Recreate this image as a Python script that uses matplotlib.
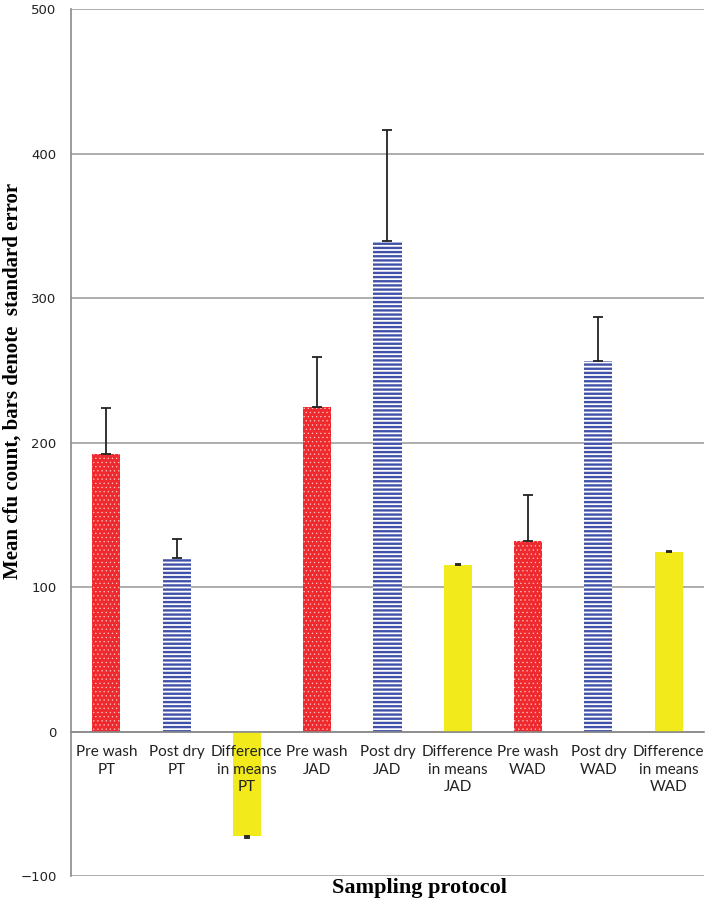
import numpy as np
import matplotlib.pyplot as plt
import matplotlib.transforms as mtransforms

categories = ["Pre wash\nPT", "Post dry\nPT", "Difference\nin means\nPT",
              "Pre wash\nJAD", "Post dry\nJAD", "Difference\nin means\nJAD",
              "Pre wash\nWAD", "Post dry\nWAD", "Difference\nin means\nWAD"]
means = [192, 120, -72.5, 224.5, 339.5, 115, 132, 256.5, 124]
std_err = [32, 13.5, 1, 34.5, 76.5, 1, 31.5, 30.5, 1]
kinds = ["pre", "post", "diff"] * 3

styles = {
    "pre": dict(facecolor="#ee2a2e", edgecolor="#ffc8c8", hatch="....", linewidth=0),
    "post": dict(facecolor="white", edgecolor="#3f51a8", hatch="----", linewidth=0),
    "diff": dict(facecolor="#f2ea1a", edgecolor="#f2ea1a", linewidth=0),
}
hatch_lw = {"pre": 0.4, "post": 1.7, "diff": 1.0}

plt.rcParams["hatch.linewidth"] = 1.7

fig = plt.figure(figsize=(7.11, 9.05), dpi=100)
ax = fig.add_axes([0.1, 0.032, 0.89, 0.958])

x = np.arange(len(categories))
for i, (m, e, k) in enumerate(zip(means, std_err, kinds)):
    bars = ax.bar(x[i], m, width=0.4, zorder=2, **styles[k])
    for b in bars:
        if hasattr(b, "set_hatch_linewidth"):
            b.set_hatch_linewidth(hatch_lw[k])
    yerr = [[0], [e]] if m >= 0 else [[e], [0]]
    cap = 2.5 if k == "diff" else 3.8
    ax.errorbar(x[i], m, yerr=yerr, fmt="none", ecolor="#222222",
                elinewidth=1.3, capsize=cap, capthick=1.3, zorder=3)

ax.set_xlim(-0.5, len(categories) - 0.5)
ax.set_ylim(-100, 500)
ax.set_yticks(np.arange(-100, 501, 100))
ax.yaxis.grid(True, color="#a0a0a0", linewidth=1.2, zorder=0)
ax.set_axisbelow(True)

for s in ["top", "right"]:
    ax.spines[s].set_visible(False)
ax.spines["left"].set_color("#8a8a8a")
ax.spines["bottom"].set_color("#8a8a8a")
ax.spines["bottom"].set_position(("data", 0))
ax.spines["left"].set_linewidth(1.2)
ax.spines["bottom"].set_linewidth(1.2)

ax.set_xticks([])
label_trans = mtransforms.offset_copy(ax.transData, fig=fig, y=-10, units="points")
for i, lab in enumerate(categories):
    ax.text(x[i], 0, lab, transform=label_trans, ha="center", va="top",
            fontsize=11, family="Lato", linespacing=1.3, color="#222222", zorder=5)

ax.tick_params(axis="y", length=0, pad=10.5, labelsize=9.5, labelcolor="#222222")

fig.text(0.018, 0.579, "Mean cfu count, bars denote  standard error", family="Liberation Serif",
         fontweight="bold", fontsize=15, rotation=90, ha="center", va="center")
fig.text(0.59, 0.019, "Sampling protocol", family="Liberation Serif",
         fontweight="bold", fontsize=16, ha="center", va="center")

fig.savefig("out.png", dpi=100)
